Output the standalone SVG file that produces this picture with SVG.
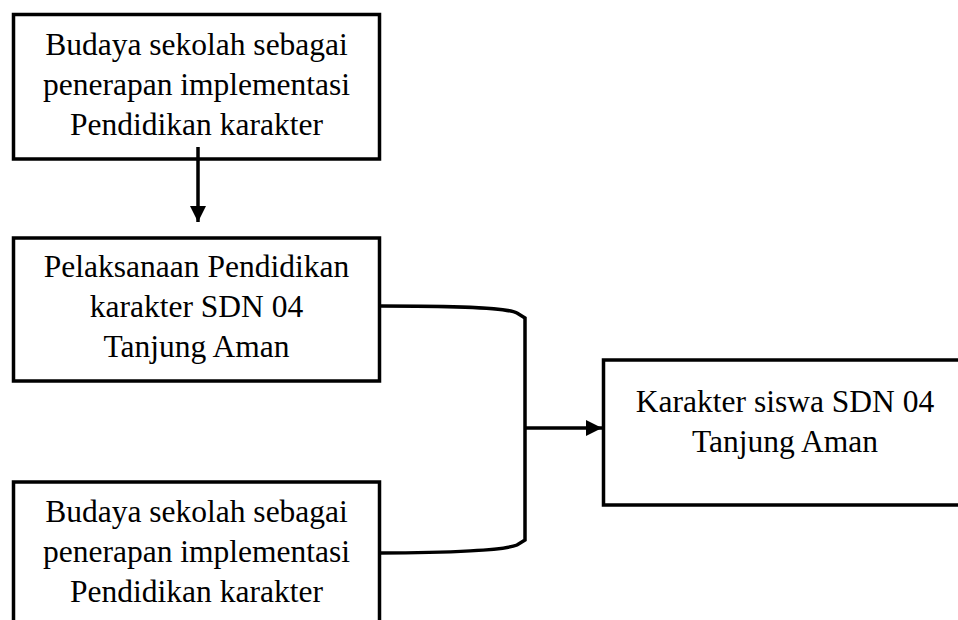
<svg xmlns="http://www.w3.org/2000/svg" width="958" height="620" viewBox="0 0 958 620">
<style>
.box{fill:#fff;stroke:#000;stroke-width:3.5}
.t{font-family:"Liberation Serif","Times New Roman",serif;font-size:31.5px;fill:#000;text-anchor:middle}
.c{fill:none;stroke:#000;stroke-width:3.5}
</style>
<defs>
<marker id="ah" markerUnits="userSpaceOnUse" markerWidth="18" markerHeight="18" viewBox="0 0 18 18" refX="16" refY="9" orient="auto">
<path d="M0,1 L16,9 L0,17 Z" fill="#000"/>
</marker>
</defs>
<rect width="958" height="620" fill="#fff"/>
<g id="node-top">
<rect class="box" x="13.5" y="14.5" width="366" height="144.5"/>
<text class="t" x="196.5" y="55">Budaya sekolah sebagai</text>
<text class="t" x="196.5" y="95">penerapan implementasi</text>
<text class="t" x="196.5" y="135">Pendidikan karakter</text>
</g>
<g id="node-pelaksanaan">
<rect class="box" x="13.5" y="238" width="366" height="143"/>
<text class="t" x="196.5" y="277">Pelaksanaan Pendidikan</text>
<text class="t" x="196.5" y="317">karakter SDN 04</text>
<text class="t" x="196.5" y="357">Tanjung Aman</text>
</g>
<g id="node-bottom">
<rect class="box" x="13.5" y="482" width="366" height="160"/>
<text class="t" x="196.5" y="522">Budaya sekolah sebagai</text>
<text class="t" x="196.5" y="562">penerapan implementasi</text>
<text class="t" x="196.5" y="602">Pendidikan karakter</text>
</g>
<g id="node-karakter">
<rect class="box" x="603.5" y="360" width="364" height="145"/>
<text class="t" x="785" y="412">Karakter siswa SDN 04</text>
<text class="t" x="785" y="452">Tanjung Aman</text>
</g>
<g id="connectors">
<path class="c" d="M198,147 L198,222" marker-end="url(#ah)"/>
<path class="c" d="M380,306 C450,306 505,307 517,313 L525,318 L525,540 L517,545 C505,550 450,553 380,553"/>
<path class="c" d="M525,428 L602,428" marker-end="url(#ah)"/>
</g>
</svg>
